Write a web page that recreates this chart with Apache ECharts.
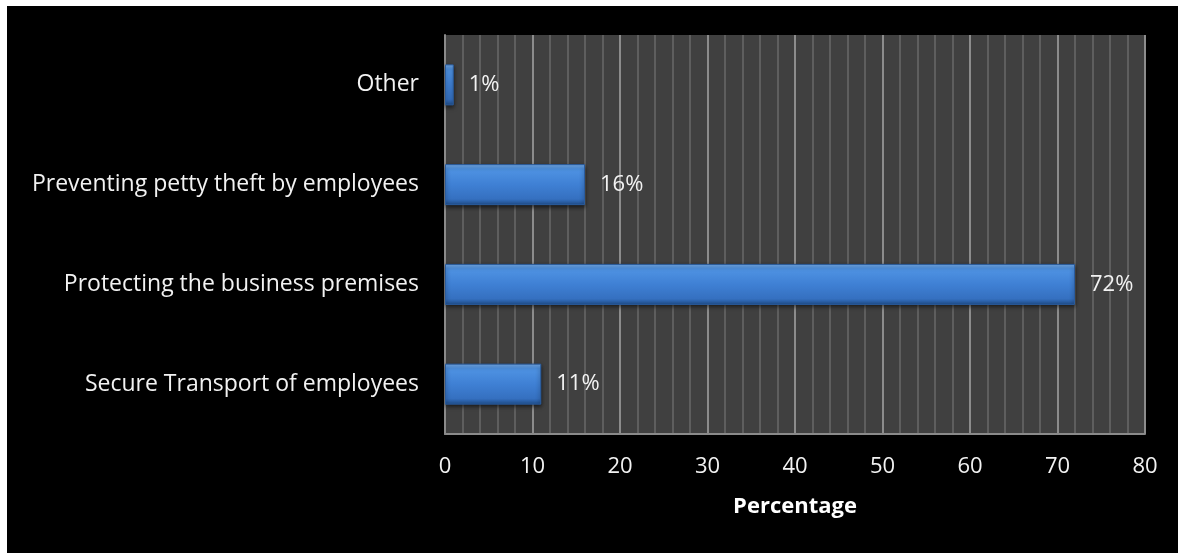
<!DOCTYPE html>
<html>
<head>
<meta charset="utf-8">
<script src="https://cdn.jsdelivr.net/npm/echarts@6/dist/echarts.min.js"></script>
<style>
  html, body { margin: 0; padding: 0; background: #ffffff; width: 1178px; height: 555px; overflow: hidden; }
  #chart { position: absolute; left: 7px; top: 6px; width: 1171px; height: 547px; background: #000000; }
</style>
</head>
<body>
<div id="chart"></div>
<script>
// Reasons for hiring security (share of respondents, %)
const categories = [
  'Secure Transport of employees',
  'Protecting the business premises',
  'Preventing petty theft by employees',
  'Other'
];
const percentages = [11, 72, 16, 1];
const axisTicks = [0, 10, 20, 30, 40, 50, 60, 70, 80];
const axisTitle = 'Percentage';

const FONT = '"Open Sans", sans-serif';

const barFill = new echarts.graphic.LinearGradient(0, 0, 0, 1, [
  { offset: 0, color: '#7ab2f0' },
  { offset: 0.12, color: '#4f93e3' },
  { offset: 0.5, color: '#3f80d4' },
  { offset: 0.85, color: '#3570c0' },
  { offset: 1, color: '#1f4d8a' }
]);

const chart = echarts.init(document.getElementById('chart'), null, { renderer: 'canvas' });
chart.setOption({
  backgroundColor: '#000000',
  animation: false,
  grid: {
    left: 438, top: 29, right: 33, bottom: 119,
    show: true, backgroundColor: '#404040', borderWidth: 0
  },
  xAxis: {
    type: 'value',
    min: axisTicks[0],
    max: axisTicks[axisTicks.length - 1],
    interval: axisTicks[1] - axisTicks[0],
    name: axisTitle,
    nameLocation: 'middle',
    nameGap: 62,
    nameTextStyle: { color: '#ffffff', fontFamily: FONT, fontSize: 22, fontWeight: 'bold' },
    axisLine: { show: true, lineStyle: { color: '#8a8a8a', width: 2 } },
    axisTick: { show: false },
    axisLabel: { color: '#f2f2f2', fontFamily: FONT, fontSize: 22, margin: 22 },
    splitLine: { show: true, lineStyle: { color: '#8c8c8c', width: 2 } },
    minorTick: { show: false, splitNumber: 5 },
    minorSplitLine: { show: true, lineStyle: { color: '#5e5e5e', width: 2 } }
  },
  yAxis: {
    type: 'category',
    data: categories,
    axisLine: { show: true, lineStyle: { color: '#8a8a8a', width: 2 } },
    axisTick: { show: false },
    axisLabel: { color: '#f2f2f2', fontFamily: FONT, fontSize: 23, margin: 26 },
    splitLine: { show: false }
  },
  series: [{
    type: 'bar',
    data: percentages,
    barWidth: 41,
    itemStyle: {
      color: barFill,
      borderColor: '#2a5c9e',
      borderWidth: 1,
      shadowColor: 'rgba(0,0,0,0.6)',
      shadowBlur: 4,
      shadowOffsetY: 2
    },
    label: {
      show: true,
      position: 'right',
      distance: 15,
      color: '#f2f2f2',
      fontFamily: FONT,
      fontSize: 22,
      formatter: p => p.value + '%'
    }
  }]
});
</script>
</body>
</html>
